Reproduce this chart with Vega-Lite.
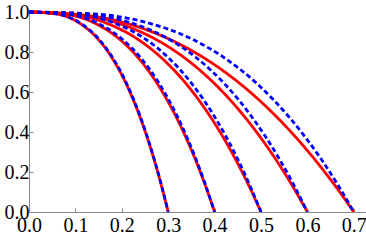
{
  "$schema": "https://vega.github.io/schema/vega-lite/v6.json",
  "autosize": "none",
  "padding": {"left": 29, "top": 10, "right": 0, "bottom": 28},
  "width": 337,
  "height": 202,
  "background": "white",
  "config": {"font": "Liberation Serif, Times New Roman, DejaVu Serif, serif", "view": {"stroke": null}},
  "data": {"values": [
    {"a": "0.3", "s": "red", "x": 0, "y": 1},
    {"a": "0.3", "s": "red", "x": 0.06, "y": 0.9898},
    {"a": "0.3", "s": "red", "x": 0.105, "y": 0.9498},
    {"a": "0.3", "s": "red", "x": 0.15, "y": 0.8613},
    {"a": "0.3", "s": "red", "x": 0.18, "y": 0.7668},
    {"a": "0.3", "s": "red", "x": 0.21, "y": 0.6382},
    {"a": "0.3", "s": "red", "x": 0.24, "y": 0.4705},
    {"a": "0.3", "s": "red", "x": 0.255, "y": 0.3707},
    {"a": "0.3", "s": "red", "x": 0.27, "y": 0.2595},
    {"a": "0.3", "s": "red", "x": 0.285, "y": 0.136},
    {"a": "0.3", "s": "red", "x": 0.3, "y": 0},
    {"a": "0.4", "s": "red", "x": 0, "y": 1},
    {"a": "0.4", "s": "red", "x": 0.08, "y": 0.9886},
    {"a": "0.4", "s": "red", "x": 0.14, "y": 0.946},
    {"a": "0.4", "s": "red", "x": 0.2, "y": 0.8544},
    {"a": "0.4", "s": "red", "x": 0.24, "y": 0.7583},
    {"a": "0.4", "s": "red", "x": 0.28, "y": 0.629},
    {"a": "0.4", "s": "red", "x": 0.32, "y": 0.4622},
    {"a": "0.4", "s": "red", "x": 0.34, "y": 0.3635},
    {"a": "0.4", "s": "red", "x": 0.36, "y": 0.254},
    {"a": "0.4", "s": "red", "x": 0.38, "y": 0.1329},
    {"a": "0.4", "s": "red", "x": 0.4, "y": 0},
    {"a": "0.5", "s": "red", "x": 0, "y": 1},
    {"a": "0.5", "s": "red", "x": 0.1, "y": 0.9855},
    {"a": "0.5", "s": "red", "x": 0.175, "y": 0.9368},
    {"a": "0.5", "s": "red", "x": 0.25, "y": 0.8385},
    {"a": "0.5", "s": "red", "x": 0.3, "y": 0.739},
    {"a": "0.5", "s": "red", "x": 0.35, "y": 0.6086},
    {"a": "0.5", "s": "red", "x": 0.4, "y": 0.4439},
    {"a": "0.5", "s": "red", "x": 0.425, "y": 0.3478},
    {"a": "0.5", "s": "red", "x": 0.45, "y": 0.2421},
    {"a": "0.5", "s": "red", "x": 0.475, "y": 0.1262},
    {"a": "0.5", "s": "red", "x": 0.5, "y": 0},
    {"a": "0.6", "s": "red", "x": 0, "y": 1},
    {"a": "0.6", "s": "red", "x": 0.12, "y": 0.983},
    {"a": "0.6", "s": "red", "x": 0.21, "y": 0.9298},
    {"a": "0.6", "s": "red", "x": 0.3, "y": 0.8268},
    {"a": "0.6", "s": "red", "x": 0.36, "y": 0.7254},
    {"a": "0.6", "s": "red", "x": 0.42, "y": 0.5944},
    {"a": "0.6", "s": "red", "x": 0.48, "y": 0.4313},
    {"a": "0.6", "s": "red", "x": 0.51, "y": 0.3371},
    {"a": "0.6", "s": "red", "x": 0.54, "y": 0.2341},
    {"a": "0.6", "s": "red", "x": 0.57, "y": 0.1217},
    {"a": "0.6", "s": "red", "x": 0.6, "y": 0},
    {"a": "0.7", "s": "red", "x": 0, "y": 1},
    {"a": "0.7", "s": "red", "x": 0.14, "y": 0.9783},
    {"a": "0.7", "s": "red", "x": 0.245, "y": 0.9178},
    {"a": "0.7", "s": "red", "x": 0.35, "y": 0.8079},
    {"a": "0.7", "s": "red", "x": 0.42, "y": 0.7035},
    {"a": "0.7", "s": "red", "x": 0.49, "y": 0.5722},
    {"a": "0.7", "s": "red", "x": 0.56, "y": 0.412},
    {"a": "0.7", "s": "red", "x": 0.595, "y": 0.3208},
    {"a": "0.7", "s": "red", "x": 0.63, "y": 0.2219},
    {"a": "0.7", "s": "red", "x": 0.665, "y": 0.1149},
    {"a": "0.7", "s": "red", "x": 0.7, "y": 0},
    {"a": "0.3", "s": "blue", "x": 0, "y": 1},
    {"a": "0.3", "s": "blue", "x": 0.06, "y": 0.9906},
    {"a": "0.3", "s": "blue", "x": 0.105, "y": 0.9524},
    {"a": "0.3", "s": "blue", "x": 0.15, "y": 0.866},
    {"a": "0.3", "s": "blue", "x": 0.18, "y": 0.7726},
    {"a": "0.3", "s": "blue", "x": 0.21, "y": 0.6446},
    {"a": "0.3", "s": "blue", "x": 0.24, "y": 0.4764},
    {"a": "0.3", "s": "blue", "x": 0.255, "y": 0.3758},
    {"a": "0.3", "s": "blue", "x": 0.27, "y": 0.2634},
    {"a": "0.3", "s": "blue", "x": 0.285, "y": 0.1383},
    {"a": "0.3", "s": "blue", "x": 0.3, "y": 0},
    {"a": "0.4", "s": "blue", "x": 0, "y": 1},
    {"a": "0.4", "s": "blue", "x": 0.08, "y": 0.9906},
    {"a": "0.4", "s": "blue", "x": 0.14, "y": 0.9524},
    {"a": "0.4", "s": "blue", "x": 0.2, "y": 0.866},
    {"a": "0.4", "s": "blue", "x": 0.24, "y": 0.7726},
    {"a": "0.4", "s": "blue", "x": 0.28, "y": 0.6446},
    {"a": "0.4", "s": "blue", "x": 0.32, "y": 0.4764},
    {"a": "0.4", "s": "blue", "x": 0.34, "y": 0.3758},
    {"a": "0.4", "s": "blue", "x": 0.36, "y": 0.2634},
    {"a": "0.4", "s": "blue", "x": 0.38, "y": 0.1383},
    {"a": "0.4", "s": "blue", "x": 0.4, "y": 0},
    {"a": "0.5", "s": "blue", "x": 0, "y": 1},
    {"a": "0.5", "s": "blue", "x": 0.1, "y": 0.9906},
    {"a": "0.5", "s": "blue", "x": 0.175, "y": 0.9524},
    {"a": "0.5", "s": "blue", "x": 0.25, "y": 0.866},
    {"a": "0.5", "s": "blue", "x": 0.3, "y": 0.7726},
    {"a": "0.5", "s": "blue", "x": 0.35, "y": 0.6446},
    {"a": "0.5", "s": "blue", "x": 0.4, "y": 0.4764},
    {"a": "0.5", "s": "blue", "x": 0.425, "y": 0.3758},
    {"a": "0.5", "s": "blue", "x": 0.45, "y": 0.2634},
    {"a": "0.5", "s": "blue", "x": 0.475, "y": 0.1383},
    {"a": "0.5", "s": "blue", "x": 0.5, "y": 0},
    {"a": "0.6", "s": "blue", "x": 0, "y": 1},
    {"a": "0.6", "s": "blue", "x": 0.12, "y": 0.9906},
    {"a": "0.6", "s": "blue", "x": 0.21, "y": 0.9524},
    {"a": "0.6", "s": "blue", "x": 0.3, "y": 0.866},
    {"a": "0.6", "s": "blue", "x": 0.36, "y": 0.7726},
    {"a": "0.6", "s": "blue", "x": 0.42, "y": 0.6446},
    {"a": "0.6", "s": "blue", "x": 0.48, "y": 0.4764},
    {"a": "0.6", "s": "blue", "x": 0.51, "y": 0.3758},
    {"a": "0.6", "s": "blue", "x": 0.54, "y": 0.2634},
    {"a": "0.6", "s": "blue", "x": 0.57, "y": 0.1383},
    {"a": "0.6", "s": "blue", "x": 0.6, "y": 0},
    {"a": "0.7", "s": "blue", "x": 0, "y": 1},
    {"a": "0.7", "s": "blue", "x": 0.14, "y": 0.9906},
    {"a": "0.7", "s": "blue", "x": 0.245, "y": 0.9524},
    {"a": "0.7", "s": "blue", "x": 0.35, "y": 0.866},
    {"a": "0.7", "s": "blue", "x": 0.42, "y": 0.7726},
    {"a": "0.7", "s": "blue", "x": 0.49, "y": 0.6446},
    {"a": "0.7", "s": "blue", "x": 0.56, "y": 0.4764},
    {"a": "0.7", "s": "blue", "x": 0.595, "y": 0.3758},
    {"a": "0.7", "s": "blue", "x": 0.63, "y": 0.2634},
    {"a": "0.7", "s": "blue", "x": 0.665, "y": 0.1383},
    {"a": "0.7", "s": "blue", "x": 0.7, "y": 0}
  ]},
  "encoding": {
    "x": {
      "field": "x", "type": "quantitative",
      "scale": {"domain": [0, 0.7263], "nice": false, "zero": false},
      "axis": {
        "title": null,
        "values": [0, 0.1, 0.2, 0.3, 0.4, 0.5, 0.6, 0.7],
        "format": ".1f",
        "labelFlush": false,
        "labelFont": "Liberation Serif, Times New Roman, DejaVu Serif, serif",
        "labelFontSize": 20,
        "labelPadding": 7,
        "tickSize": -4,
        "gridOpacity": 0
      }
    },
    "y": {
      "field": "y", "type": "quantitative",
      "scale": {"domain": [0, 1.01], "nice": false, "zero": false},
      "axis": {
        "title": null,
        "values": [0, 0.2, 0.4, 0.6, 0.8, 1.0],
        "format": ".1f",
        "labelFlush": false,
        "labelFont": "Liberation Serif, Times New Roman, DejaVu Serif, serif",
        "labelFontSize": 20,
        "labelPadding": 4,
        "tickSize": -4,
        "gridOpacity": 0
      }
    },
    "detail": {"field": "a", "type": "nominal"},
    "color": {"field": "s", "type": "nominal", "scale": {"domain": ["red", "blue"], "range": ["#ff0000", "#0000ff"]}, "legend": null},
    "strokeDash": {"field": "s", "type": "nominal", "scale": {"domain": ["red", "blue"], "range": [[1, 0], [5, 3]]}, "legend": null}
  },
  "mark": {"type": "line", "strokeWidth": 2.8, "interpolate": "monotone", "clip": true}
}
